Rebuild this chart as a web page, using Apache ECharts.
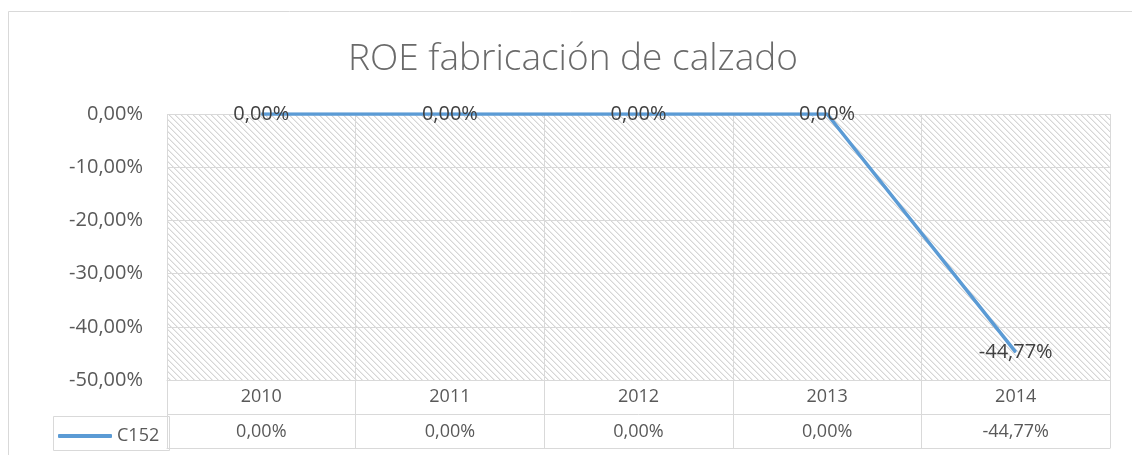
<!DOCTYPE html>
<html>
<head>
<meta charset="utf-8">
<script src="https://cdn.jsdelivr.net/npm/echarts@6/dist/echarts.min.js"></script>
<style>
html,body{margin:0;padding:0;background:#fff;}
#c{width:1132px;height:455px;}
</style>
</head>
<body>
<div id="c"></div>
<script>
const titleText = 'ROE fabricación de calzado';
const seriesName = 'C152';
const categories = ['2010', '2011', '2012', '2013', '2014'];
const values = [0, 0, 0, 0, -44.77];
const yMin = -50, yMax = 0, yInterval = 10;

const FONT = 'Open Sans';
function fmt(v) { return Number(v).toFixed(2).replace('.', ',') + '%'; }

// hatch pattern tile
const T = 6;
const tile = document.createElement('canvas');
tile.width = T; tile.height = T;
const tc = tile.getContext('2d');
tc.fillStyle = '#ffffff';
tc.fillRect(0, 0, T, T);
tc.fillStyle = '#d6d6d6';
for (let i = 0; i < T; i++) {
  tc.fillRect(i, i, 1, 1);
}
tc.fillStyle = '#ececec';
for (let i = 0; i < T; i++) {
  tc.fillRect((i + 1) % T, i, 1, 1);
}

const chart = echarts.init(document.getElementById('c'), null, {renderer: 'canvas'});
const gridColor = '#d9d9d9';
const textColor = '#595959';
const option = {
  animation: false,
  backgroundColor: '#ffffff',
  title: {
    text: titleText,
    left: 568, top: 36,
    textAlign: 'center',
    textStyle: {fontFamily: FONT, fontSize: 37, fontWeight: 300, color: '#6a6a6a'}
  },
  legend: {
    left: 53, top: 420,
    icon: 'roundRect',
    itemWidth: 54, itemHeight: 4, itemGap: 4,
    textStyle: {fontFamily: FONT, fontSize: 18, color: textColor, lineHeight: 22},
    data: [seriesName]
  },
  grid: [
    {
      left: 167, right: 22, top: 114, bottom: 75,
      show: true,
      borderWidth: 0,
      backgroundColor: {image: tile, repeat: 'repeat'}
    },
    {
      left: 167, right: 22, top: 380, height: 68,
      show: false
    }
  ],
  xAxis: [
    {
      type: 'category', data: categories, gridIndex: 0, position: 'bottom',
      axisLine: {show: true, onZero: false, lineStyle: {color: gridColor, width: 1}},
      axisTick: {show: false},
      axisLabel: {fontFamily: FONT, fontSize: 18, color: textColor, verticalAlign: 'middle', margin: 17},
      splitLine: {show: true, lineStyle: {color: gridColor, width: 1}}
    },
    {
      type: 'category', data: categories, gridIndex: 1, position: 'bottom',
      axisLine: {show: true, onZero: false, lineStyle: {color: gridColor, width: 1}},
      axisTick: {show: false},
      axisLabel: {fontFamily: FONT, fontSize: 18, color: textColor, verticalAlign: 'middle', margin: -16,
        formatter: function (v, i) { return fmt(values[i]); }},
      splitLine: {show: true, lineStyle: {color: gridColor, width: 1}}
    }
  ],
  yAxis: [
    {
      type: 'value', gridIndex: 0, min: yMin, max: yMax, interval: yInterval,
      axisLine: {show: false},
      axisTick: {show: false},
      axisLabel: {fontFamily: FONT, fontSize: 20, color: textColor, margin: 24, formatter: fmt},
      splitLine: {show: true, lineStyle: {color: gridColor, width: 1}}
    },
    {
      type: 'value', gridIndex: 1, min: 0, max: 2, interval: 1,
      axisLine: {show: false},
      axisTick: {show: false},
      axisLabel: {show: false},
      splitLine: {show: true, lineStyle: {color: gridColor, width: 1}}
    }
  ],
  series: [{
    name: seriesName,
    type: 'line',
    data: values,
    xAxisIndex: 0, yAxisIndex: 0,
    symbol: 'circle',
    symbolSize: 1,
    showSymbol: true,
    itemStyle: {color: '#5b9bd5'},
    lineStyle: {color: '#5b9bd5', width: 3.5},
    label: {
      show: true, position: 'inside',
      fontFamily: FONT, fontSize: 20, color: '#404040',
      formatter: function (p) { return fmt(p.value); }
    }
  }],
  graphic: [
    {type: 'rect', left: 6, top: 9, shape: {width: 1140, height: 460}, z: -10, silent: true,
      style: {fill: null, stroke: gridColor, lineWidth: 1}},
    {type: 'rect', left: 51, top: 414, shape: {width: 116, height: 34}, silent: true,
      style: {fill: null, stroke: gridColor, lineWidth: 1}}
  ]
};
chart.setOption(option);
</script>
</body>
</html>
